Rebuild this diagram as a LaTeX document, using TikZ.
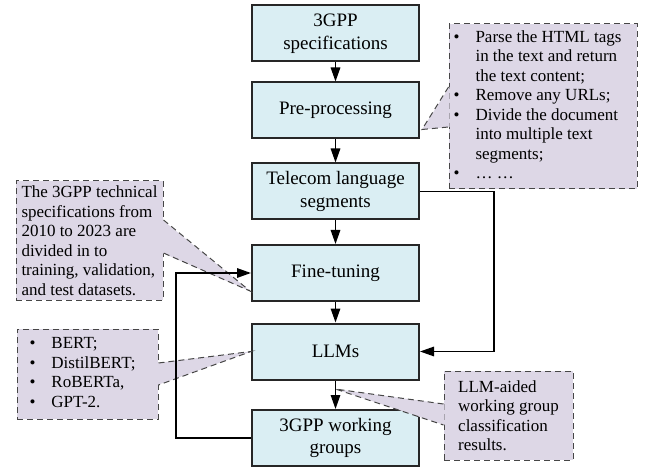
\documentclass[tikz,border=0pt]{standalone}
\usepackage{fontspec}
\setmainfont{Liberation Serif}
\usepackage{tikz}
\usetikzlibrary{arrows.meta,positioning,calc}
\definecolor{boxblue}{RGB}{218,238,243}
\definecolor{notelilac}{RGB}{221,215,230}
\definecolor{notegray}{RGB}{70,70,70}
\tikzstyle{block} = [rectangle, draw=black!85, line width=2pt, fill=boxblue, minimum width=167pt, minimum height=56pt, inner sep=2pt, align=center, font=\fontsize{19}{22.5}\selectfont]
\tikzstyle{note} = [rectangle, draw=notegray, line width=1pt, dash pattern=on 6pt off 4pt, fill=notelilac, inner sep=0pt, align=left, font=\fontsize{17}{19.5}\selectfont]
\tikzstyle{pointer} = [draw=notegray, line width=1pt, dash pattern=on 6pt off 4pt]
\tikzstyle{arrow} = [line width=1.5pt, -{Triangle[length=14pt,width=9.5pt]}]

\begin{document}
\begin{tikzpicture}[x=1pt, y=-1pt]
    \useasboundingbox (0,0) rectangle (646,468);

    % main flow
    \node[block] (spec) at (335.5,33.5) {3GPP\\specifications};
    \node[block] (pre) at (335.5,110.5) {Pre-processing};
    \node[block] (seg) at (335.5,191.5) {Telecom language\\segments};
    \node[block] (tune) at (335.5,273) {Fine-tuning};
    \node[block] (llm) at (335.5,351.5) {LLMs};
    \node[block] (wg) at (335.5,438) {3GPP working\\groups};

    % notes
    \node[note, minimum width=188pt, minimum height=165pt] (notepre) at (543,106.5) {%
        \begin{tabular}{@{}l@{\hspace{16pt}}l@{\hspace{11pt}}}
        \textbullet & Parse the HTML tags\\
                    & in the text and return\\
                    & the text content;\\
        \textbullet & Remove any URLs;\\
        \textbullet & Divide the document\\
                    & into multiple text\\
                    & segments;\\
        \textbullet & \dots\ \dots
        \end{tabular}};
    \node[note, minimum width=147pt, minimum height=119pt] (notedata) at (89.5,240.5) {The 3GPP technical\\specifications from\\2010 to 2023 are\\divided in to\\training, validation,\\and test datasets.};
    \node[note, minimum width=141pt, minimum height=90pt] (notellm) at (87.5,374) {%
        \begin{tabular}{@{}l@{\hspace{16pt}}l@{\hspace{10pt}}}
        \textbullet & BERT;\\
        \textbullet & DistilBERT;\\
        \textbullet & RoBERTa,\\
        \textbullet & GPT-2.
        \end{tabular}};
    \node[note, minimum width=129pt, minimum height=89pt] (noteres) at (508.5,415.5) {LLM-aided\\working group\\classification\\results.};

    % pointers of the notes
    \coordinate (tippre) at ($(pre.south east)+(2,-10)$);
    \coordinate (tipdata) at ($(tune.south west)+(-1,-11)$);
    \coordinate (tipres) at ($(llm.south)!0.3!(wg.north)$);

    \fill[notelilac] ($(notepre.west)+(1,-19.5)$) -- (tippre) -- ($(notepre.west)+(1,20.5)$) -- cycle;
    \draw[pointer] ($(notepre.west)+(0,-19.5)$) -- (tippre) -- ($(notepre.west)+(0,20.5)$);

    \fill[notelilac] ($(notedata.east)+(-1,-20.5)$) -- (tipdata) -- ($(notedata.east)+(-1,12.5)$) -- cycle;
    \draw[pointer] ($(notedata.east)+(0,-20.5)$) -- (tipdata) -- ($(notedata.east)+(0,12.5)$);

    \fill[notelilac] ($(notellm.east)+(-1,-11)$) -- (llm.west) -- ($(notellm.east)+(-1,11)$) -- cycle;
    \draw[pointer] ($(notellm.east)+(0,-11)$) -- (llm.west) -- ($(notellm.east)+(0,11)$);

    \fill[notelilac] ($(noteres.west)+(1,-11.5)$) -- (tipres) -- ($(noteres.west)+(1,9.5)$) -- cycle;
    \draw[pointer] ($(noteres.west)+(0,-11.5)$) -- (tipres) -- ($(noteres.west)+(0,9.5)$);

    % connectors
    \draw[arrow] (spec) -- (pre);
    \draw[arrow] (pre) -- (seg);
    \draw[arrow] (seg) -- (tune);
    \draw[arrow] (tune) -- (llm);
    \draw[arrow] (llm) -- (wg);
    \draw[arrow] (seg.east) -- ++(74,0) |- (llm.east);
    \draw[arrow] (wg.west) -- ++(-75,0) |- (tune.west);
\end{tikzpicture}
\end{document}
